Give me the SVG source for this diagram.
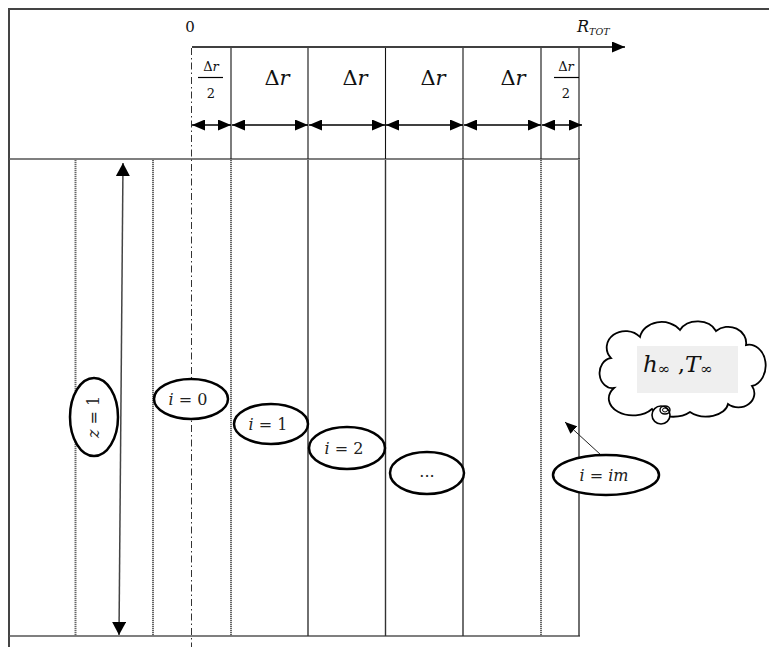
<svg xmlns="http://www.w3.org/2000/svg" width="769" height="647" viewBox="0 0 769 647">
<style>
.serif{font-family:"DejaVu Serif","Liberation Serif",serif;fill:#111}
.it{font-style:italic}
.ell{fill:#fff;stroke:#000;stroke-width:2.5}
.lbl{font-family:"DejaVu Serif","Liberation Serif",serif;font-size:16px;fill:#222;text-anchor:middle}
.frame{stroke:#444;stroke-width:2;fill:none}
.hline{stroke:#555;stroke-width:1.6}
.dotv{stroke:#666;stroke-width:2;stroke-dasharray:1.2 0.8}
.solv{stroke:#333;stroke-width:1.4}
.topv{stroke:#111;stroke-width:1.1}
.dim{stroke:#000;stroke-width:1.3;fill:none}
</style>
<defs>
<marker id="ah" markerWidth="13" markerHeight="11" refX="13" refY="5.5" orient="auto-start-reverse" markerUnits="userSpaceOnUse">
<path d="M0,0 L13,5.5 L0,11 z" fill="#000"/>
</marker>
<marker id="ahz" markerWidth="13" markerHeight="14" refX="13" refY="7" orient="auto-start-reverse" markerUnits="userSpaceOnUse">
<path d="M0,0 L13,7 L0,14 z" fill="#000"/>
</marker>
<marker id="ahs" markerWidth="12" markerHeight="10" refX="12" refY="5" orient="auto" markerUnits="userSpaceOnUse">
<path d="M0,0 L12,5 L0,10 z" fill="#000"/>
</marker>
</defs>
<rect width="769" height="647" fill="#fff"/>

<g id="frame">
<path class="frame" d="M769,9 H9 V647"/>
<line class="hline" x1="9" y1="159" x2="580" y2="159"/>
<line class="hline" x1="9" y1="636" x2="580" y2="636"/>
<line class="dotv" x1="75.5" y1="160" x2="75.5" y2="636"/>
<line class="dotv" x1="153" y1="160" x2="153" y2="636"/>
<line stroke="#333" stroke-width="1" stroke-dasharray="7 3 1.5 3" x1="191.5" y1="48" x2="191.5" y2="647"/>
<line class="topv" x1="231" y1="48" x2="231" y2="159"/>
<line class="topv" x1="308" y1="48" x2="308" y2="159"/>
<line class="topv" x1="385.5" y1="48" x2="385.5" y2="159"/>
<line class="topv" x1="463" y1="48" x2="463" y2="159"/>
<line class="topv" x1="541" y1="48" x2="541" y2="159"/>
<line class="topv" x1="579" y1="48" x2="579" y2="159"/>
<line class="dotv" x1="231" y1="160" x2="231" y2="636" stroke="#444"/>
<line class="solv" x1="308" y1="160" x2="308" y2="636"/>
<line class="solv" x1="385.5" y1="160" x2="385.5" y2="636"/>
<line class="solv" x1="463" y1="160" x2="463" y2="636"/>
<line class="dotv" x1="541" y1="160" x2="541" y2="636" stroke="#555"/>
<line class="solv" x1="579" y1="160" x2="579" y2="636"/>
</g>

<g id="axis-labels">
<text class="serif" x="190" y="32" font-size="15" text-anchor="middle">0</text>
<text class="serif it" x="577" y="32" font-size="16">R<tspan font-size="9.5" dy="3">TOT</tspan></text>
<text class="serif" x="211" y="71" font-size="13" text-anchor="middle">Δ<tspan class="it">r</tspan></text>
<line x1="198" y1="77.5" x2="223" y2="77.5" stroke="#000" stroke-width="1.2"/>
<text class="serif" x="211" y="98" font-size="13" text-anchor="middle">2</text>
<text class="serif" x="277" y="85" font-size="21" text-anchor="middle">Δ<tspan class="it">r</tspan></text>
<text class="serif" x="355" y="85" font-size="21" text-anchor="middle">Δ<tspan class="it">r</tspan></text>
<text class="serif" x="433" y="85" font-size="21" text-anchor="middle">Δ<tspan class="it">r</tspan></text>
<text class="serif" x="513" y="85" font-size="21" text-anchor="middle">Δ<tspan class="it">r</tspan></text>
<text class="serif" x="566" y="71" font-size="13" text-anchor="middle">Δ<tspan class="it">r</tspan></text>
<line x1="554" y1="77.5" x2="579" y2="77.5" stroke="#000" stroke-width="1.2"/>
<text class="serif" x="566" y="98" font-size="13" text-anchor="middle">2</text>
</g>

<g id="connectors">
<line class="dim" x1="192" y1="47" x2="625" y2="47" marker-end="url(#ah)"/>
<line class="dim" x1="192" y1="125" x2="231" y2="125" marker-start="url(#ah)" marker-end="url(#ah)"/>
<line class="dim" x1="232" y1="125" x2="308" y2="125" marker-start="url(#ah)" marker-end="url(#ah)"/>
<line class="dim" x1="309" y1="125" x2="385" y2="125" marker-start="url(#ah)" marker-end="url(#ah)"/>
<line class="dim" x1="386" y1="125" x2="463" y2="125" marker-start="url(#ah)" marker-end="url(#ah)"/>
<line class="dim" x1="464" y1="125" x2="541" y2="125" marker-start="url(#ah)" marker-end="url(#ah)"/>
<line class="dim" x1="542" y1="125" x2="582" y2="125" marker-start="url(#ah)" marker-end="url(#ah)"/>
<line stroke="#444" stroke-width="1.5" x1="123" y1="163" x2="119" y2="635" marker-start="url(#ahz)" marker-end="url(#ahz)"/>
<line stroke="#222" stroke-width="1" x1="601" y1="455" x2="565" y2="422" marker-end="url(#ahs)"/>
</g>

<g id="node-z1">
<ellipse class="ell" cx="94" cy="417" rx="24" ry="39"/>
<text class="lbl" transform="translate(99,417) rotate(-90)" x="0" y="0" fill="#222"><tspan font-style="italic" fill="#222">z</tspan> = 1</text>
</g>
<g id="node-i0">
<ellipse class="ell" cx="191" cy="399" rx="37" ry="20"/>
<text class="lbl" x="188" y="405"><tspan font-style="italic">i</tspan> = 0</text>
</g>
<g id="node-i1">
<ellipse class="ell" cx="271" cy="424" rx="37" ry="20"/>
<text class="lbl" x="268" y="430"><tspan font-style="italic">i</tspan> = 1</text>
</g>
<g id="node-i2">
<ellipse class="ell" cx="347" cy="448" rx="38" ry="21"/>
<text class="lbl" x="344" y="454"><tspan font-style="italic">i</tspan> = 2</text>
</g>
<g id="node-dots">
<ellipse class="ell" cx="427" cy="473" rx="37" ry="21"/>
<text class="lbl" x="427" y="477" font-size="12">...</text>
</g>
<g id="node-im">
<ellipse class="ell" cx="606" cy="475" rx="53" ry="20"/>
<text class="lbl" x="604" y="481"><tspan font-style="italic">i</tspan> = <tspan font-style="italic">im</tspan></text>
</g>

<g id="node-cloud">
<path fill="#fff" stroke="#000" stroke-width="1.8" d="M614,388 A12,14 0 0 1 611,358 A16,14 0 0 1 640,337 A22,18 0 0 1 680,330 A20,16 0 0 1 716,331 A18,16 0 0 1 746,345 A16,20 0 0 1 752,386 A16,14 0 0 1 728,404 A22,14 0 0 1 690,412 A22,12 0 0 1 652,409 A20,14 0 0 1 614,388 Z"/>
<rect x="637" y="346" width="101" height="47" fill="#efefef"/>
<text class="serif" x="643" y="372" font-size="23"><tspan class="it">h</tspan><tspan font-size="15" dy="2">∞</tspan><tspan dy="-2"> ,</tspan><tspan class="it">T</tspan><tspan font-size="15" dy="2">∞</tspan></text>
<circle cx="661" cy="415" r="9" fill="#fff" stroke="#000" stroke-width="1.6"/>
<ellipse cx="665" cy="410" rx="5" ry="4" fill="none" stroke="#000" stroke-width="1.4"/>
<ellipse cx="665" cy="410" rx="2.5" ry="2" fill="none" stroke="#000" stroke-width="1"/>
</g>
</svg>
